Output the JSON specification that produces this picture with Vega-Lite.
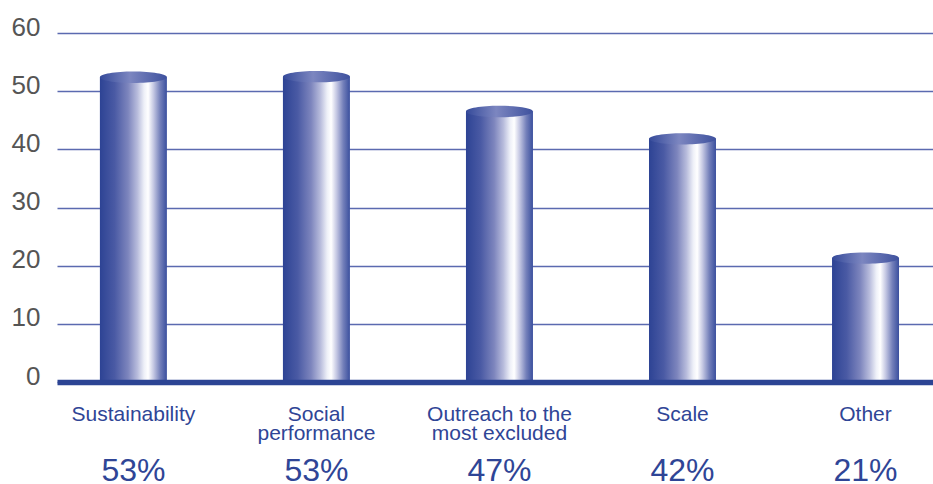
{
  "$schema": "https://vega.github.io/schema/vega-lite/v6.json",
  "width": 876,
  "height": 349,
  "autosize": {"type": "none"},
  "padding": {"left": 57, "top": 33, "right": 0, "bottom": 102},
  "background": "#ffffff",
  "config": {"view": {"stroke": null}, "font": "Liberation Sans"},
  "data": {
    "values": [
      {"category": "Sustainability", "value": 52.4, "pct": "53%"},
      {"category": "Social performance", "value": 52.5, "pct": "53%"},
      {"category": "Outreach to the most excluded", "value": 46.5, "pct": "47%"},
      {"category": "Scale", "value": 41.8, "pct": "42%"},
      {"category": "Other", "value": 21.3, "pct": "21%"}
    ]
  },
  "encoding": {
    "x": {
      "field": "category",
      "type": "nominal",
      "sort": null,
      "scale": {"paddingInner": 0.634, "paddingOuter": 0.21, "align": 0.558},
      "axis": {
        "title": null,
        "ticks": false,
        "tickSize": 0,
        "domain": true,
        "domainColor": "#2c4494",
        "domainWidth": 5.5,
        "labelAngle": 0,
        "labelFont": "Liberation Sans",
        "labelFontSize": 21,
        "labelColor": "#2f4596",
        "labelBaseline": "alphabetic",
        "labelPadding": 38,
        "labelLineHeight": 19,
        "labelLimit": 300,
        "zindex": 1,
        "labelExpr": "datum.value == 'Social performance' ? ['Social','performance'] : datum.value == 'Outreach to the most excluded' ? ['Outreach to the','most excluded'] : datum.value"
      }
    }
  },
  "layer": [
    {
      "mark": {
        "type": "bar",
        "fill": {
          "gradient": "linear",
          "x1": 0, "x2": 1, "y1": 0, "y2": 0,
          "stops": [
            {"offset": 0, "color": "#2d4394"},
            {"offset": 0.22, "color": "#4a5aa4"},
            {"offset": 0.42, "color": "#7d85bd"},
            {"offset": 0.56, "color": "#b8bcdc"},
            {"offset": 0.66, "color": "#eef0f8"},
            {"offset": 0.72, "color": "#ffffff"},
            {"offset": 0.8, "color": "#c5c8e3"},
            {"offset": 0.9, "color": "#7480ba"},
            {"offset": 1, "color": "#3a4f9e"}
          ]
        },
        "stroke": null
      },
      "encoding": {
        "y": {
          "field": "value",
          "type": "quantitative",
          "scale": {"domain": [0, 60], "nice": false, "zero": true},
          "axis": {
            "title": null,
            "values": [0, 10, 20, 30, 40, 50, 60],
            "grid": true,
            "gridColor": "#5b6ab0",
            "gridWidth": 1.3,
            "ticks": false,
            "domain": false,
            "labelFont": "Liberation Sans",
            "labelFontSize": 26,
            "labelColor": "#555555",
            "labelPadding": 17,
            "labelBaseline": "alphabetic",
            "labelOffset": 2,
            "zindex": 0
          }
        }
      }
    },
    {
      "mark": {
        "type": "point",
        "filled": true,
        "shape": "M -1 0 C -1 -0.0939 -0.5523 -0.17 0 -0.17 C 0.5523 -0.17 1 -0.0939 1 0 C 1 0.0939 0.5523 0.17 0 0.17 C -0.5523 0.17 -1 0.0939 -1 0 Z",
        "size": 4489,
        "opacity": 1,
        "strokeWidth": 0,
        "fill": {
          "gradient": "linear",
          "x1": 0, "x2": 1, "y1": 0, "y2": 0,
          "stops": [
            {"offset": 0, "color": "#354a9a"},
            {"offset": 0.45, "color": "#7c86c0"},
            {"offset": 1, "color": "#3e519e"}
          ]
        }
      },
      "encoding": {
        "y": {"field": "value", "type": "quantitative"}
      }
    },
    {
      "mark": {
        "type": "text",
        "font": "Liberation Sans",
        "fontSize": 32,
        "color": "#2f4596",
        "baseline": "alphabetic",
        "align": "center"
      },
      "encoding": {
        "y": {"datum": -17.0, "type": "quantitative"},
        "text": {"field": "pct"}
      }
    }
  ]
}
